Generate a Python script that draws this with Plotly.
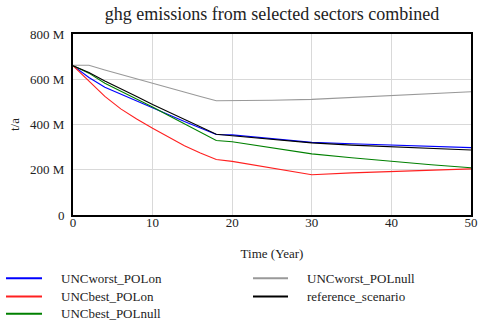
import plotly.graph_objects as go

years = [0, 2, 4, 6, 8, 10, 12, 14, 16, 18, 20, 25, 30, 35, 40, 45, 50]

unc_worst_pol_on = [660, 608, 565, 534, 505, 472, 442, 413, 385, 356, 354, 337, 321, 315, 310, 304, 298]
unc_best_pol_on = [660, 594, 524, 469, 424, 383, 343, 306, 274, 245, 237, 207, 178, 186, 193, 199, 204]
unc_best_pol_null = [660, 627, 582, 548, 514, 477, 440, 403, 366, 329, 324, 296, 270, 253, 237, 222, 209]
unc_worst_pol_null = [662, 662, 641, 621, 602, 582, 563, 544, 524, 505, 505, 507, 511, 520, 529, 537, 545]
reference_scenario = [660, 630, 592, 559, 524, 488, 455, 421, 389, 357, 350, 334, 319, 309, 301, 294, 287]

series_names = ["UNCworst_POLon", "UNCbest_POLon", "UNCbest_POLnull", "UNCworst_POLnull", "reference_scenario"]
series_values = [unc_worst_pol_on, unc_best_pol_on, unc_best_pol_null, unc_worst_pol_null, reference_scenario]
series_colors = ["#0000ff", "#ff2020", "#008000", "#999999", "#000000"]

y_tickvals = [0, 200, 400, 600, 800]
y_ticktext = ["0", "200 M", "400 M", "600 M", "800 M"]
x_tickvals = [0, 10, 20, 30, 40, 50]

FONT = "Times New Roman, Liberation Serif, serif"

fig = go.Figure()
for name, vals, col in zip(series_names, series_values, series_colors):
    fig.add_trace(go.Scatter(x=years, y=vals, mode="lines", name=name,
                             line=dict(color=col, width=1.1), showlegend=False))

# manual legend (two columns, column-major order)
W, H = 398, 181
L, B = 73, 215
def px(xp):
    return (xp - L) / W
def py(yp):
    return (B - yp) / H

legend_cols = [(6, 42, 59), (253, 288, 305)]
legend_rows = [278.3, 296.5, 313.8]
for i, (name, col) in enumerate(zip(series_names, series_colors)):
    c = legend_cols[i // 3]
    r = legend_rows[i % 3]
    fig.add_shape(type="line", xref="paper", yref="paper",
                  x0=px(c[0]), x1=px(c[1]), y0=py(r), y1=py(r),
                  line=dict(color=col, width=2))
    fig.add_annotation(xref="paper", yref="paper", x=px(c[2]), y=py(r),
                       text=name, showarrow=False, xanchor="left", yanchor="middle",
                       font=dict(family=FONT, size=13, color="#222222"))

fig.update_layout(
    width=480, height=322,
    margin=dict(l=L, r=480 - L - W, t=B - H, b=322 - B, autoexpand=False),
    paper_bgcolor="white", plot_bgcolor="white",
    font=dict(family=FONT, size=13, color="#222222"),
    title=dict(text="ghg emissions from selected sectors combined",
               x=0.5, xref="paper", y=1 - 13.5 / 322, yref="container", yanchor="middle",
               font=dict(family=FONT, size=18, color="#222222")),
    showlegend=False,
)
fig.update_xaxes(range=[0, 50], tickvals=x_tickvals, showgrid=True, gridcolor="#d9d9d9", gridwidth=1,
                 zeroline=False, showline=True, linecolor="black", linewidth=2, mirror=True,
                 ticks="", ticklen=0, ticklabelstandoff=-6, tickfont=dict(family=FONT, size=13),
                 title=dict(text="Time (Year)", standoff=20, font=dict(family=FONT, size=13)))
fig.update_yaxes(range=[0, 800], tickvals=y_tickvals, ticktext=y_ticktext, showgrid=True,
                 gridcolor="#d9d9d9", gridwidth=1,
                 zeroline=False, showline=True, linecolor="black", linewidth=2, mirror=True,
                 ticks="", ticklen=0, ticklabelstandoff=4, tickfont=dict(family=FONT, size=13),
                 title=dict(text="t/a", standoff=8, font=dict(family=FONT, size=13)))

fig.write_html("out.html")
